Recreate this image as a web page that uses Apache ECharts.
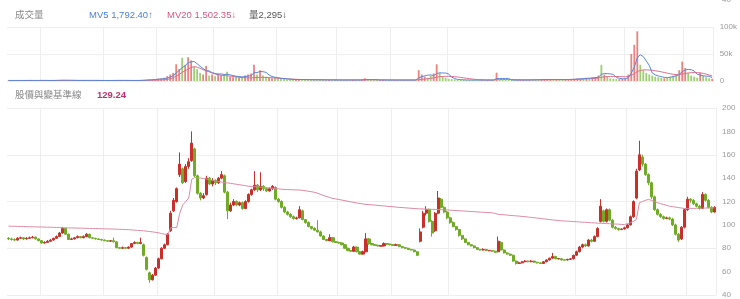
<!DOCTYPE html>
<html><head><meta charset="utf-8">
<script src="https://cdn.jsdelivr.net/npm/echarts@6/dist/echarts.min.js"></script>
<style>html,body{margin:0;padding:0;background:#fff}#c{width:740px;height:299px}</style>
</head><body><div id="c"></div>
<script>
// [open, close, low, high]
const ohlc = [
[88.5,88,87,89.5],[88,87.5,86.5,89],[87.5,87,86,88.5],[87,88.5,86.5,89.5],[88.5,89,88,90],[89,88,87,89.5],[88,88.5,87.5,89.5],[88.5,89,88,90],[89,89.5,88.5,90.5],[89.5,88,87.5,90],
[88,86.5,86,88.5],[86.5,84.5,84,87],[84.5,85,84,86],[85,86,84.5,87],[86,87,85.5,88],[87,88.5,86.5,89],[88.5,90,88,91],[90,93,89.5,94],[93,97,92.5,98],[97,92,91.5,97.5],
[92,87.5,87,92.5],[87.5,88,87,89],[88,89,87.5,89.5],[89,90,88.5,91],[90,89,88.5,90.5],[89,90,88.5,91],[90,92,89.5,93],[92,89,88.5,92.5],[89,88.5,88,89.5],[88.5,88,87.5,89],
[88,87.5,87,88.5],[87.5,87,86.5,88],[87,86.5,86,87.5],[86.5,86,85.5,87],[86,86.5,85.5,87],[86.5,85.5,85,89],[85.5,80.5,80,86],[80.5,80,79.5,81],[80,80.5,79.5,81.5],[80.5,80,79.5,81],
[80,81,79.5,81.5],[81,84,80.5,84.5],[84,85,83.5,86],[85,84,83.5,85.5],[84,85,83.5,89],[83,74,73,84],[72,62,61,73],[59,53,50.5,60],[53,57,52.5,58],[57,63,56.5,64],
[63,71,62.5,72],[71,80,70.5,81],[80,83,79.5,84],[83,92,82.5,93],[95,110,94,112],[112,121,111,123],[120,131,119,132],[143,152,141,162],[148,136,135,149],[137,150,136,152],
[150,154,148,157],[155,170,154,180],[165,142,141,166],[142,127,126,143],[127,123,121,128],[123,125,122,127],[126,140,125,142],[140,135,134,141],[135,138,133,140],[138,136,134,139],
[136,140,135,141],[140,143,139,146],[142,128,127,143],[128,112,105,129],[112,117,111,119],[117,120,116,122],[120,117,116,121],[117,119,116,120],[119,114,113,120],[114,120,113.5,121],
[120,126,119,127],[126,130,125,131],[130,134,129,146],[134,130,128,135],[130,133,129,145],[133,131,129,134],[131,129,128,132],[129,131,128.5,132],[131,133,130,134],[132,122,121,133],
[122,120,119,123],[120,115,114,121],[115,111,110,116],[111,109,108,112],[109,107,106,110],[107,105.5,104.5,108],[105.5,106,104.5,107],[106,113,105.5,116],[112,104.5,104,113],[104.5,102,101,105],
[102,98.5,98,103],[98.5,97,96,99],[97,95.5,95,98],[95.5,94,93.5,104],[94,90.5,90,95],[90.5,87.5,87,91],[87.5,86.5,86,88],[86.5,89,86,92],[89,85.5,85,89.5],[85.5,85,84.5,86],
[85,84.5,84,85.5],[84.5,83,82.5,85],[83,80,79.5,83.5],[80,78,77.5,80.5],[78,77.5,77,78.5],[77.5,81,77,82],[81,77,76.5,81.5],[77,75,74.5,77.5],[75,77,74.5,78],[77,88,76.5,93],
[88,84,83,88.5],[84,83,82.5,84.5],[83,82.5,82,83.5],[82.5,82,81.5,83],[81.8,82.2,81.5,82.5],[82,84,81.5,85],[84,83.5,83,84.5],[83.5,83,82.5,84],[83,82.5,82,83.5],[82.5,83,82,84],
[83,81.5,81,83.5],[81.5,80.5,80,82],[80.5,80,79.5,81],[80,79,78.5,80.5],[79,78.5,78,79.5],[78.5,77,76.5,79],[77,74,73.5,77.5],[86,94,85,97],[98,110,97,112],[110,113,108,116],
[113,103,102,114],[103,93,90,104],[95,110,94,111],[110,123,109,129],[122,115,114,123],[115,111,110,116],[111,106,105,112],[106,102,101,107],[102,98.5,98,103],[98.5,96,95,99],
[96,91,90,96.5],[91,88,87,91.5],[88,85,84.5,88.5],[85,83,82.5,85.5],[83,82,81.5,83.5],[82,80.5,80,82.5],[80.5,79,78.5,81],[79,78.5,78,79.5],[78.5,79,78,80],[79,78,77.5,79.5],
[77.8,78.2,77.5,78.5],[78,77.5,77,78.5],[77.5,76.5,76,78],[77,86,76.5,90],[85,78.5,78,86],[78.5,76,75.5,79],[76,75,74.5,76.5],[75,74,73.5,75.5],[74,69,68.5,74.5],[69,67,66,69.5],
[67,67.5,66.5,68.5],[67.5,68.5,67,69],[68.5,69,68,70],[69,68.5,68,69.5],[68.5,69,68,70],[69,68,67.5,69.5],[68,67.5,67,68.5],[67.5,67,66.5,68],[67,68.5,66.5,69],[68.5,70,68,70.5],
[70,71.5,69.5,72],[71.5,73,71,76],[73,71,70.5,73.5],[70.8,71.2,70.5,71.5],[71,70,69.5,71.5],[70.2,69.8,69.5,70.5],[70,70.5,69.5,71],[70.5,71,70,71.5],[71,74,70.5,74.5],[74,77,73.5,78],
[77,81,76.5,82],[81,83,80,84],[83,82,81,84],[82,87,81.5,88],[87,86,85,88],[86,90,85.5,91],[90,97,89.5,98],[103,116,102,122],[112,103,102,113],[103,113,102,114],
[113,104,103,114],[104,98,97,105],[98,97,96,99],[97,96,95,97.5],[96,96.5,95.5,97],[96.5,97.5,96,98.5],[97.5,100,97,101],[100,107,99.5,108],[107,120,106,121],[123,146,122,148],
[147,160,146,172],[158,152,150,160],[152,143,142,153],[143,136,134,144],[136,124,122,137],[124,113,112,125],[113,109,108,114],[109,107,106,110],[107,105.5,104.5,108],[105.5,106,105,107],
[106,105,104,107],[105,100,99,106],[100,92,91,101],[92,87,85.5,93],[88,98,87,99],[98,113,97,114],[113,122,112,124],[122,121,119,123],[121,118,117,122],[118,116,115,119],
[116,114,113,117],[114,126,113.5,128],[126,121,120,127],[121,115,114,122],[115,111,110,116],[111,115,110.5,116]
];
const priceLine = [
98.9,98.8,98.8,98.7,98.6,98.6,98.5,98.4,98.4,98.3,98.2,98.2,98.1,98.0,98.0,97.9,97.8,97.7,97.6,
97.5,97.4,97.4,97.3,97.2,97.2,97.1,97.0,97.0,96.9,96.8,96.8,96.7,96.6,96.6,96.5,96.4,96.3,96.2,96.1,96.0,
95.9,95.7,95.5,95.3,95.1,94.9,94.6,94.3,94.0,93.6,93.2,92.6,92.0,91.7,
97.5,97.7,97.7,110,117,120,123,139,140.5,
140.3,140.0,139.6,139.2,138.7,138.1,137.5,
137.1,136.7,136.3,135.9,135.5,135.1,134.7,134.3,133.9,133.5,133.0,
132.8,132.6,132.4,132.2,132.0,131.8,131.5,131.3,131.0,130.8,130.5,130.3,
130.2,130.1,130.0,129.9,129.8,
129.5,129.1,128.7,128.3,127.8,
127.0,126.0,125.0,124.2,123.4,122.6,
122.2,121.7,121.2,120.7,120.2,119.7,119.2,118.7,118.3,117.9,117.5,
117.3,117.1,116.9,116.6,116.4,116.2,115.9,115.7,115.5,115.2,115.0,114.8,114.6,114.4,114.2,114.0,113.8,
113.7,113.6,113.5,113.4,113.3,113.2,113.1,113.0,112.9,112.8,112.6,
112.4,112.3,112.1,111.9,111.8,111.6,111.4,111.3,111.1,110.9,110.8,110.6,110.5,110.3,
109.8,109.0,
108.8,108.6,108.4,108.1,107.9,107.7,107.5,107.2,107.0,
106.7,106.4,106.1,105.8,105.5,105.2,104.9,104.6,104.3,104.0,103.7,
103.5,103.3,103.2,103.0,102.8,102.7,102.5,102.3,102.2,102.0,101.8,
101.7,101.5,101.4,101.2,101.1,101.0,100.8,100.7,100.6,100.4,100.3,
101.0,101.8,103.0,104.6,119.0,120.0,121.0,121.8,
121.0,120.0,119.0,
118.2,117.5,116.8,116.0,
115.6,115.2,114.8,114.4,114.0,
114.0,114.1,114.1,114.2,114.3,114.3,114.4,114.5,114.5,114.6
];
// volume in thousands
const volume = [
1.0,1.2,0.9,1.1,1.0,0.8,1.0,1.2,1.1,0.9,1.0,1.3,1.0,0.9,1.0,1.1,1.2,1.5,2.0,1.4,1.0,0.9,1.0,1.1,0.9,1.0,1.2,1.1,0.9,0.8,1.0,0.9,0.8,0.9,1.0,1.2,1.5,1.0,0.9,0.8,1.0,1.1,1.2,1.0,1.3,
2.0,2.5,3.0,2.8,3.5,4.5,5.0,6.0,
9,12,15,31,22,43,30,44,38,26,
22,15,12,28,10,12,9,14,11,11,
17,8,7,9,6,8,10,12,14,30,
12,20,10,8,6,5,6,5,4,3.5,
3,3,2.5,2.5,3,2.5,2.5,
2.4,2.3,2.2,2.6,2.0,2.1,1.9,2.2,1.8,2.0,1.9,1.8,2.0,1.9,1.8,2.1,1.9,1.8,2.0,5.0,2.4,2.0,1.8,1.9,1.7,2.0,1.8,1.9,1.7,1.8,1.7,1.9,1.8,1.7,1.8,1.9,2.2,
20,12,8,6,10,14,31,15,8,6,4,3.5,
3,2.5,2.2,2.0,1.9,1.8,1.8,1.7,1.9,1.8,1.7,1.8,1.9,1.8,
15.5,3,2.5,2.2,2.0,1.9,
1.8,1.9,1.8,2.0,2.2,2.0,2.4,2.2,2.5,2.8,3.0,2.6,3.5,2.4,2.6,2.5,2.7,2.6,2.8,3.2,3.8,4.5,
4,5,6,5,7,7,10,30,12,9,5,4,4,3.5,4,5,
12,50,67,92,30,20,15,12,10,8,
7,6,5,6,8,10,12,20,
36,24,15,10,8,6,15.5,10,7,5,4
];
const mv5 = [
1.0,1.0,1.0,1.0,1.0,1.0,1.0,1.1,1.0,1.0,1.0,1.1,1.1,1.0,1.0,1.0,1.1,1.2,1.4,1.4,1.4,1.3,1.2,1.0,1.0,1.0,1.0,1.0,1.0,1.0,1.0,0.9,0.9,0.9,0.9,1.0,1.1,1.1,1.1,1.1,1.1,1.0,1.0,1.0,1.1,
1.3,1.6,2.0,2.3,2.8,3.3,3.8,4.4,
5.6,7.3,10.0,14.6,19.6,24.8,28.2,34.0,35.4,36.2,
32.0,27.2,23.0,19.0,18.8,15.4,14.0,12.6,13.2,12.0,
12.6,11.4,10.2,8.8,8.0,7.6,8.0,9.0,10.0,15.2,
15.6,17.6,17.2,16.0,11.2,8.2,7.0,6.0,5.2,4.5,
4.0,3.5,3.0,2.8,2.7,2.7,2.6,
2.5,2.4,2.3,2.3,2.2,2.2,2.1,2.0,2.0,2.0,2.0,1.9,1.9,1.9,1.9,1.9,1.9,1.9,2.0,2.6,2.6,2.6,2.6,2.5,1.9,1.9,1.9,1.8,1.8,1.8,1.8,1.8,1.8,1.8,1.8,1.8,1.9,
5.5,7.9,9.5,10.8,11.2,10.0,13.8,15.2,14.8,14.8,12.8,7.3,
4.5,3.0,2.5,2.2,2.0,1.9,1.8,1.8,1.8,1.8,1.8,1.8,1.8,1.8,
4.5,4.6,4.6,4.7,4.8,2.0,
1.8,1.8,1.8,1.9,1.9,2.0,2.1,2.2,2.3,2.4,2.6,2.7,2.8,2.8,2.8,2.7,2.6,2.6,2.7,2.9,3.2,3.6,
4.0,4.4,4.8,5.2,5.6,6.2,7.0,12.4,14.0,13.6,13.2,12.0,6.8,4.9,4.1,4.2,
6.0,14.9,25.6,43.4,48.6,45.2,37.2,28.8,14.8,11.4,
9.4,8.2,6.8,6.2,6.8,8.2,9.6,12.2,
17.2,20.4,21.4,21.0,18.6,12.6,10.8,9.6,9.1,8.7,6.4
];
const mv20 = [
1.0,1.0,1.0,1.0,1.0,1.0,1.0,1.0,1.0,1.0,1.0,1.0,1.0,1.0,1.0,1.0,1.0,1.1,1.1,1.1,1.1,1.1,1.1,1.1,1.1,1.1,1.1,1.1,1.1,1.1,1.1,1.1,1.0,1.0,1.0,1.0,1.0,1.0,1.0,1.0,1.0,1.0,1.0,1.0,1.0,
1.1,1.2,1.3,1.4,1.6,1.8,2.0,2.3,
3.0,4.0,6.0,9.0,12.0,16.0,19.0,22.0,25.0,26.7,
25.5,23.5,21.0,19.0,17.0,15.0,13.0,11.5,10.8,10.2,
9.6,9.0,8.4,7.6,6.8,6.3,6.0,5.8,5.8,6.2,
6.5,6.8,6.8,6.6,6.3,6.0,5.6,5.2,4.8,4.4,
4.0,3.7,3.4,3.1,2.9,2.7,2.6,
2.5,2.5,2.4,2.4,2.3,2.3,2.2,2.2,2.2,2.1,2.1,2.1,2.0,2.0,2.0,2.0,2.0,2.0,2.0,2.1,2.2,2.2,2.2,2.2,2.2,2.1,2.1,2.0,2.0,2.0,1.9,1.9,1.9,1.9,1.9,1.9,1.9,
2.2,3.0,3.6,4.2,5.0,5.8,7.2,8.0,8.4,8.6,8.6,8.4,
8.0,7.4,6.6,5.8,5.0,4.2,3.6,3.0,2.6,2.3,2.1,2.0,1.9,1.9,
2.4,2.6,2.7,2.8,2.8,2.7,
2.6,2.5,2.4,2.3,2.2,2.2,2.2,2.2,2.3,2.3,2.4,2.4,2.5,2.5,2.5,2.5,2.6,2.6,2.7,2.8,3.0,3.2,
3.4,3.7,4.0,4.3,4.6,5.0,5.5,7.0,7.6,8.0,8.2,8.3,8.3,8.2,8.0,7.8,
8.2,10.5,13.5,17.5,19.5,20.6,20.6,20.3,19.8,19.0,
18.0,17.0,15.8,14.6,13.4,12.4,11.8,11.8,
13.0,14.0,14.8,15.4,15.6,15.4,15.0,14.2,12.8,11.0,9.5
];
const volTicks = [0, 50, 100];
const priceTicks = [40, 60, 80, 100, 120, 140, 160, 180, 200];
const splitIdx = [11, 32, 50, 69, 90, 110, 128, 147, 189, 206, 226];
const categories = ohlc.map((_, i) => 'd' + i);

const UP = '#c8302a', DOWN = '#6fab24';
const FONT = '"Liberation Sans","Noto Sans CJK TC",sans-serif';
const chart = echarts.init(document.getElementById('c'));
const vSplit = (i) => splitIdx.indexOf(i) >= 0;
const xCommon = {
  type: 'category', data: categories, boundaryGap: true,
  axisLine: { show: false }, axisTick: { show: false }, axisLabel: { show: false },
  splitLine: { show: true, interval: vSplit, lineStyle: { color: '#eeeeee', width: 1 } }
};
const labelStyle = { color: '#999', fontSize: 8, fontFamily: FONT, margin: 6 };
chart.setOption({
  animation: false,
  grid: [
    { left: 7, right: 24, top: 27, height: 54 },
    { left: 7, right: 24, top: 108, height: 187 }
  ],
  xAxis: [ Object.assign({ gridIndex: 0 }, xCommon), Object.assign({ gridIndex: 1 }, xCommon) ],
  yAxis: [
    { gridIndex: 0, position: 'right', min: volTicks[0], max: volTicks[2], interval: volTicks[1] - volTicks[0],
      axisLine: { show: false }, axisTick: { show: false },
      axisLabel: Object.assign({ formatter: v => v === 0 ? '0' : v + 'k' }, labelStyle),
      splitLine: { show: true, lineStyle: { color: '#eeeeee' } } },
    { gridIndex: 1, position: 'right', min: priceTicks[0], max: priceTicks[priceTicks.length - 1], interval: priceTicks[1] - priceTicks[0],
      axisLine: { show: false }, axisTick: { show: false }, axisLabel: labelStyle, splitLine: { show: false } },
    { gridIndex: 1, position: 'right', min: priceTicks[0], max: priceTicks[priceTicks.length - 1], interval: 40,
      axisLine: { show: false }, axisTick: { show: false }, axisLabel: { show: false },
      splitLine: { show: true, lineStyle: { color: '#eeeeee' } } }
  ],
  series: [
    { type: 'bar', xAxisIndex: 0, yAxisIndex: 0, barWidth: 1.8,
      data: volume.map((v, i) => ({ value: v, itemStyle: { color: ohlc[i][1] >= ohlc[i][0] ? 'rgba(226,90,80,0.75)' : 'rgba(125,190,70,0.75)' } })) },
    { type: 'line', xAxisIndex: 0, yAxisIndex: 0, data: mv20, symbol: 'none', lineStyle: { color: '#dc6f8f', width: 1 } },
    { type: 'line', xAxisIndex: 0, yAxisIndex: 0, data: mv5, symbol: 'none', lineStyle: { color: '#5a86d8', width: 1 } },
    { type: 'candlestick', xAxisIndex: 1, yAxisIndex: 1, data: ohlc, barWidth: 2.6,
      itemStyle: { color: UP, color0: DOWN, borderColor: UP, borderColor0: DOWN, borderWidth: 1 } },
    { type: 'line', xAxisIndex: 1, yAxisIndex: 1, data: priceLine, symbol: 'none', lineStyle: { color: '#dc8aa3', width: 1 } }
  ],
  graphic: [
    { type: 'text', x: 722, y: 0, style: { text: '40', fill: '#999', font: '8px ' + FONT, textVerticalAlign: 'middle' } },
    { type: 'text', x: 15, y: 15.5, style: { text: '成交量', fill: '#888', font: '9.5px ' + FONT, textVerticalAlign: 'middle' } },
    { type: 'text', x: 89, y: 15.5, style: { text: 'MV5 1,792.40↑', fill: '#4f7fd6', font: '9.5px ' + FONT, textVerticalAlign: 'middle' } },
    { type: 'text', x: 167, y: 15.5, style: { text: 'MV20 1,502.35↓', fill: '#d4587d', font: '9.5px ' + FONT, textVerticalAlign: 'middle' } },
    { type: 'text', x: 249, y: 15.5, style: { text: '量2,295↓', fill: '#555', font: '9.5px ' + FONT, textVerticalAlign: 'middle' } },
    { type: 'text', x: 15, y: 95.5, style: { text: '股價與變基準線', fill: '#888', font: '9.5px ' + FONT, textVerticalAlign: 'middle' } },
    { type: 'text', x: 97, y: 95.5, style: { text: '129.24', fill: '#c2306b', font: 'bold 9.5px ' + FONT, textVerticalAlign: 'middle' } }
  ]
});
</script></body></html>
